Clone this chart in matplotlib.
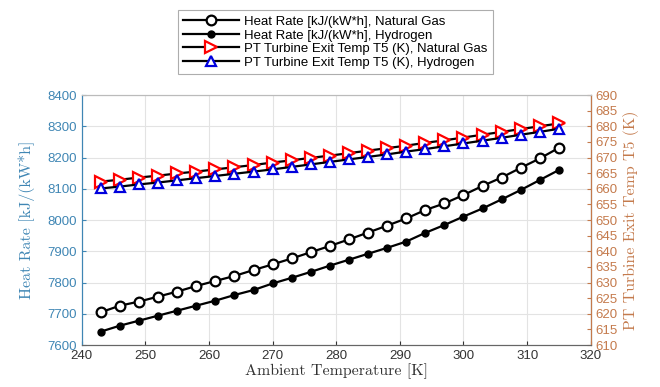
"""
Heat rate and PT turbine exit temperature vs ambient temperature
"""

import matplotlib.pyplot as plt

plt.rcParams['font.family'] = ['Liberation Sans', 'DejaVu Sans']

# data
ambient = [243, 246, 249, 252, 255, 258, 261, 264, 267, 270, 273, 276, 279,
           282, 285, 288, 291, 294, 297, 300, 303, 306, 309, 312, 315]

hr_ng = [7705, 7726, 7739, 7755, 7771, 7789, 7805, 7821, 7840, 7858, 7877, 7897, 7917,
         7938, 7960, 7982, 8005, 8032, 8053, 8080, 8109, 8136, 8167, 8197, 8231]
hr_h2 = [7643, 7662, 7678, 7694, 7710, 7726, 7742, 7760, 7776, 7797, 7815, 7834, 7854,
         7873, 7892, 7911, 7931, 7959, 7984, 8011, 8037, 8066, 8096, 8128, 8160]

t5_ng = [662.3, 662.9, 663.6, 664.2, 664.9, 665.5, 666.2, 666.9, 667.6, 668.4, 669.1, 669.9, 670.6,
         671.4, 672.2, 673.0, 673.8, 674.7, 675.5, 676.4, 677.3, 678.2, 679.1, 680.0, 680.9]
t5_h2 = [660.1, 660.7, 661.4, 662.0, 662.7, 663.4, 664.1, 664.8, 665.5, 666.2, 667.0, 667.8, 668.6,
         669.4, 670.2, 671.0, 671.9, 672.7, 673.6, 674.5, 675.4, 676.3, 677.3, 678.2, 679.2]

x_ticks = [240, 250, 260, 270, 280, 290, 300, 310, 320]
left_ticks = [7600, 7700, 7800, 7900, 8000, 8100, 8200, 8300, 8400]
right_ticks = [610, 615, 620, 625, 630, 635, 640, 645, 650, 655, 660, 665, 670, 675, 680, 685, 690]

labels = ['Heat Rate [kJ/(kW*h], Natural Gas', 'Heat Rate [kJ/(kW*h], Hydrogen',
          'PT Turbine Exit Temp T5 (K), Natural Gas', 'PT Turbine Exit Temp T5 (K), Hydrogen']

LEFT_C = '#3f86b4'
RIGHT_C = '#c47a4c'
SERIF = 'cmr10'

fig = plt.figure(figsize=(6.6, 3.87), dpi=100)
ax = fig.add_axes([0.124, 0.1085, 0.771, 0.646])
ax2 = ax.twinx()

l1, = ax.plot(ambient, hr_ng, '-o', color='black', lw=1.6, ms=7, mfc='white',
              mec='black', mew=1.6)
l2, = ax.plot(ambient, hr_h2, '-o', color='black', lw=1.6, ms=5, mfc='black',
              mec='black')
l3, = ax2.plot(ambient, t5_ng, '->', color='black', lw=1.6, ms=8, mfc='white',
               mec='red', mew=1.6)
l4, = ax2.plot(ambient, t5_h2, '-^', color='black', lw=1.6, ms=7.5, mfc='white',
               mec='#0000dd', mew=1.6)

ax.set_xlim(240, 320)
ax.set_ylim(7600, 8400)
ax2.set_ylim(610, 690)
ax.set_xticks(x_ticks)
ax.set_yticks(left_ticks)
ax2.set_yticks(right_ticks)
ax.grid(True, color='#e3e3e3', lw=0.8)
ax.set_axisbelow(True)

ax.tick_params(axis='x', direction='in', labelsize=9.5, colors='#333333', length=3)
ax.tick_params(axis='y', direction='in', labelsize=9.5, colors=LEFT_C, length=3)
ax2.tick_params(axis='y', direction='in', labelsize=9.5, colors=RIGHT_C, length=3)

ax.spines['left'].set_color(LEFT_C)
ax2.spines['left'].set_color(LEFT_C)
ax2.spines['right'].set_color(RIGHT_C)
for a in (ax, ax2):
    a.spines['bottom'].set_color('#666666')
    a.spines['top'].set_color('#bbbbbb')

ax.set_xlabel('Ambient Temperature [K]', family=SERIF, fontsize=11.5, color='#333333', labelpad=1)
ax.set_ylabel('Heat Rate [kJ/(kW*h]', family=SERIF, fontsize=11.5, color=LEFT_C, labelpad=9)
ax2.set_ylabel('PT Turbine Exit Temp T5 (K)', family=SERIF, fontsize=11.5, color=RIGHT_C, labelpad=4)

leg = fig.legend([l1, l2, l3, l4], labels, loc='upper center', bbox_to_anchor=(0.508, 0.99),
                 fontsize=9.5, frameon=True, fancybox=False, edgecolor='#999999',
                 handlelength=4.2, labelspacing=0.1, borderpad=0.4, handletextpad=0.4)
leg.get_frame().set_linewidth(0.8)

fig.savefig('out.png', dpi=100)
